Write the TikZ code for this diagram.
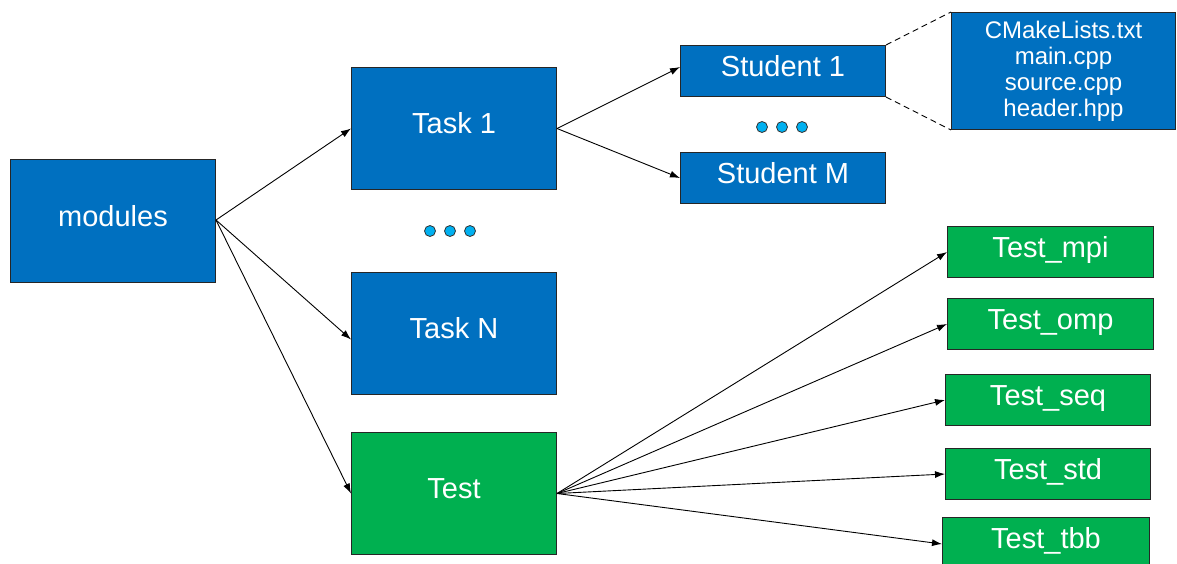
\documentclass[tikz,border=0pt]{standalone}
\usepackage{fontspec}
\setmainfont{Liberation Sans}
\usetikzlibrary{arrows.meta}
\definecolor{bblue}{HTML}{0070C0}
\definecolor{ggreen}{HTML}{00B050}
\definecolor{dotblue}{HTML}{00B0F0}
\tikzset{
  box/.style={draw=black!85, line width=1pt, text=white, inner sep=0pt, anchor=north west},
  bluebox/.style={box, fill=bblue},
  greenbox/.style={box, fill=ggreen},
  bigtxt/.style={font=\fontsize{29}{34}\selectfont, text height=21pt, text depth=11pt},
  conn/.style={line width=0.9pt, -{Latex[length=10pt,width=7pt]}},
  dot/.style={circle, draw=black!80, fill=dotblue, line width=0.8pt, minimum size=11pt, inner sep=0pt},
  dashline/.style={dashed, line width=0.9pt, dash pattern=on 6pt off 4pt}
}
\begin{document}
\begin{tikzpicture}[x=1pt,y=-1pt]
\useasboundingbox (0,0) rectangle (1177,563);
% main boxes
\node[bluebox, bigtxt, minimum width=205pt, minimum height=123pt] (mod) at (10,159) {modules};
\node[bluebox, bigtxt, minimum width=205pt, minimum height=122pt] (t1) at (351,67) {Task 1};
\node[bluebox, bigtxt, minimum width=205pt, minimum height=122pt] (tn) at (351,272) {Task N};
\node[greenbox, bigtxt, minimum width=205pt, minimum height=122pt] (test) at (351,432) {Test};
% students
\node[bluebox, bigtxt, minimum width=205pt, minimum height=51pt] (s1) at (680,45) {Student 1};
\node[bluebox, bigtxt, minimum width=205pt, minimum height=51pt] (sm) at (680,152) {Student M};
% files
\node[bluebox, font=\fontsize{24}{26}\selectfont, align=center, minimum width=224pt, minimum height=117pt] (files) at (951,12) {CMakeLists.txt\\main.cpp\\source.cpp\\header.hpp};
% tests
\node[greenbox, bigtxt, minimum width=206pt, minimum height=51pt] (mpi) at (947,226) {Test\_mpi};
\node[greenbox, bigtxt, minimum width=206pt, minimum height=51pt] (omp) at (947,298) {Test\_omp};
\node[greenbox, bigtxt, minimum width=205pt, minimum height=51pt] (seq) at (945,374) {Test\_seq};
\node[greenbox, bigtxt, minimum width=205pt, minimum height=51pt] (std) at (945,448) {Test\_std};
\node[greenbox, bigtxt, minimum width=207pt, minimum height=51pt] (tbb) at (942,517) {Test\_tbb};
% dots
\node[dot] (d1) at (430,231) {};
\node[dot] (d2) at (450,231) {};
\node[dot] (d3) at (470,231) {};
\node[dot] (e1) at (762,127) {};
\node[dot] (e2) at (782,127) {};
\node[dot] (e3) at (802,127) {};
% connectors
\coordinate (mo) at ([yshift=1pt]mod.east);
\draw[conn] (mo) -- (t1.west);
\draw[conn] (mo) -- ([yshift=-6pt]tn.west);
\draw[conn] (mo) -- (test.west);
\coordinate (t1o) at (t1.east);
\draw[conn] (t1o) -- ([yshift=4pt]s1.west);
\draw[conn] (t1o) -- (sm.west);
\coordinate (to) at (test.east);
\draw[conn] (to) -- (mpi.west);
\draw[conn] (to) -- (omp.west);
\draw[conn] (to) -- (seq.west);
\draw[conn] (to) -- (std.west);
\draw[conn] (to) -- ([yshift=-1pt]tbb.west);
% dashed
\draw[dashline] (s1.north east) -- (files.north west);
\draw[dashline] (s1.south east) -- (files.south west);
\end{tikzpicture}
\end{document}
